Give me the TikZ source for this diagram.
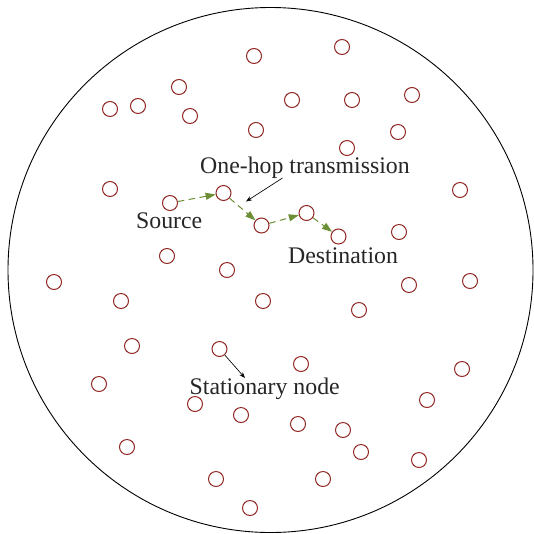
\documentclass[tikz,border=0pt]{standalone}
\usepackage{fontspec}
\setmainfont{Liberation Serif}
\usetikzlibrary{arrows.meta}
\definecolor{nodered}{RGB}{145,40,35}
\definecolor{hopgreen}{RGB}{108,142,52}
\tikzset{
  sensor/.style={circle,draw=nodered,line width=1pt,minimum size=15pt,inner sep=0pt},
  hop/.style={draw=hopgreen,line width=1pt,dash pattern=on 6.5pt off 4.5pt,-{Triangle[length=10pt,width=7pt]}},
  pointer/.style={draw=black,line width=0.65pt,-{Stealth[length=6pt,width=4.5pt]}},
  lbl/.style={font=\fontsize{23.8pt}{26pt}\selectfont,inner sep=0pt,anchor=base west,text=black!85}
}
\begin{document}
\begin{tikzpicture}[x=1pt,y=-1pt]
\useasboundingbox (0,0) rectangle (534,533);
\node[circle,draw=black,line width=0.9pt,minimum size=525pt,inner sep=0pt] (field) at (270.5,270) {};
% nodes
\foreach \n/\x/\y in {a1/254/56, a2/342/47, a3/179/87, a4/110/109, a5/138/106, a6/190/116,
  a7/292/100, a8/352/100, a9/412/95, a10/256/130, a11/398/132, a12/347/148,
  a13/110/189, a14/460/190, a20/399/232, a21/167/256, a22/227/270, a23/54/282,
  a24/470/281, a25/121/301, a26/263/301, a27/409/285, a28/359/310, a29/132/346,
  a31/301/364, a32/99/384, a33/462/369, a34/427/400, a35/195/404, a36/241/415,
  a37/298/424, a38/343/430, a39/361/452, a40/127/447, a41/419/460, a42/216/479,
  a43/323/479, a44/250/508}
  {\node[sensor] (\n) at (\x,\y) {};}
\node[sensor] (src) at (170,203) {};
\node[sensor] (h1) at (223.5,193) {};
\node[sensor] (h2) at (261.5,225.5) {};
\node[sensor] (h3) at (306.5,213) {};
\node[sensor] (dst) at (338.5,236.5) {};
\node[sensor] (stat) at (219.5,349) {};
% labels
\node[lbl] (lone) at (200,173.5) {One-hop transmission};
\node[lbl] (lsrc) at (136,228) {Source};
\node[lbl] (ldst) at (288,263) {Destination};
\node[lbl] (lstat) at (189.5,394) {Stationary node};
% transmissions
\draw[hop] (src) -- (h1);
\draw[hop] (h1) -- (h2);
\draw[hop] (h2) -- (h3);
\draw[hop] (h3) -- (dst);
% pointers
\coordinate (p1s) at (282.5,178);
\coordinate (p1e) at (246,201.5);
\draw[pointer] (p1s) -- (p1e);
\coordinate (p2e) at (245,378);
\draw[pointer] (stat) -- (p2e);
\end{tikzpicture}
\end{document}
